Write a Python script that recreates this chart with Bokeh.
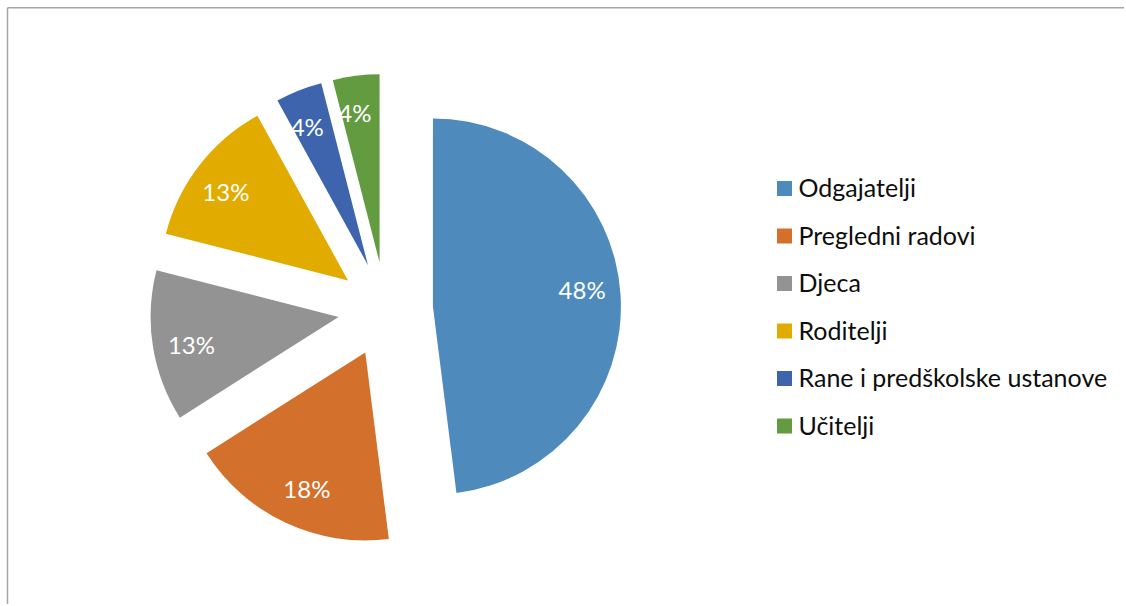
import math
from bokeh.plotting import figure
from bokeh.models import ColumnDataSource, Range1d
from bokeh.core.properties import value
from bokeh.embed import file_html
from bokeh.resources import INLINE

# ---- data ----
categories = ["Odgajatelji", "Pregledni radovi", "Djeca", "Roditelji",
              "Rane i predškolske ustanove", "Učitelji"]
shares = [48, 18, 13, 13, 4, 4]
labels = ["48%", "18%", "13%", "13%", "4%", "4%"]
colors = ["#4F8ABD", "#D2702C", "#939393", "#E1AB00", "#3D64AD", "#629B40"]

# ---- layout constants (pixels == data units) ----
W, H = 1124, 604
CX, CY = 385, H - 309      # pie centre
R = 188                    # radius
EXPLODE = 47.5             # explosion distance
LABEL_T = 150              # label distance from slice vertex
FONT = "Lato"

total = float(sum(shares))
xs, ys, starts, ends, lx, ly = [], [], [], [], [], []
acc = 0.0
for s in shares:
    a0 = acc / total * 2 * math.pi          # clockwise from 12 o'clock
    a1 = (acc + s) / total * 2 * math.pi
    mid = (a0 + a1) / 2
    vx = CX + EXPLODE * math.sin(mid)
    vy = CY + EXPLODE * math.cos(mid)
    xs.append(vx)
    ys.append(vy)
    starts.append(math.pi / 2 - a1)
    ends.append(math.pi / 2 - a0)
    lx.append(vx + LABEL_T * math.sin(mid - 0.04))
    ly.append(vy + LABEL_T * math.cos(mid - 0.04) + 2)
    acc += s

src = ColumnDataSource(dict(x=xs, y=ys, start=starts, end=ends, color=colors,
                            lx=lx, ly=ly, label=labels))

p = figure(width=W, height=H, output_backend="svg", toolbar_location=None,
           x_range=Range1d(0, W), y_range=Range1d(0, H), min_border=0,
           background_fill_color="white", border_fill_color="white")
p.axis.visible = False
p.grid.visible = False
p.outline_line_color = None

# chart border (top and left visible)
p.line(x=[7, W + 5], y=[H - 7.3, H - 7.3], line_color="#a6a6a6", line_width=1.5)
p.line(x=[7, 7], y=[-5, H - 7.3], line_color="#a6a6a6", line_width=1.5)

p.wedge(x="x", y="y", radius=R, start_angle="start", end_angle="end",
        fill_color="color", line_color=None, source=src)
p.text(x="lx", y="ly", text="label", source=src, text_color="white",
       text_font=value(FONT), text_font_size="24px", text_align="center",
       text_baseline="middle")

# legend
LEG_X, LEG_Y0, LEG_STEP = 784, H - 188, 47.5
n = len(categories)
leg_y = [LEG_Y0 - i * LEG_STEP for i in range(n)]
leg = ColumnDataSource(dict(x=[LEG_X] * n, tx=[LEG_X + 14] * n,
                            y=leg_y, ty=[v + 1.5 for v in leg_y],
                            name=categories, color=colors))
p.scatter(x="x", y="y", marker="square", size=15, fill_color="color",
          line_color=None, source=leg)
p.text(x="tx", y="ty", text="name", source=leg, text_color="#0d0d0d",
       text_font=value(FONT), text_font_size="25px", text_align="left",
       text_baseline="middle")

open("out.html", "w").write(file_html(p, INLINE))
